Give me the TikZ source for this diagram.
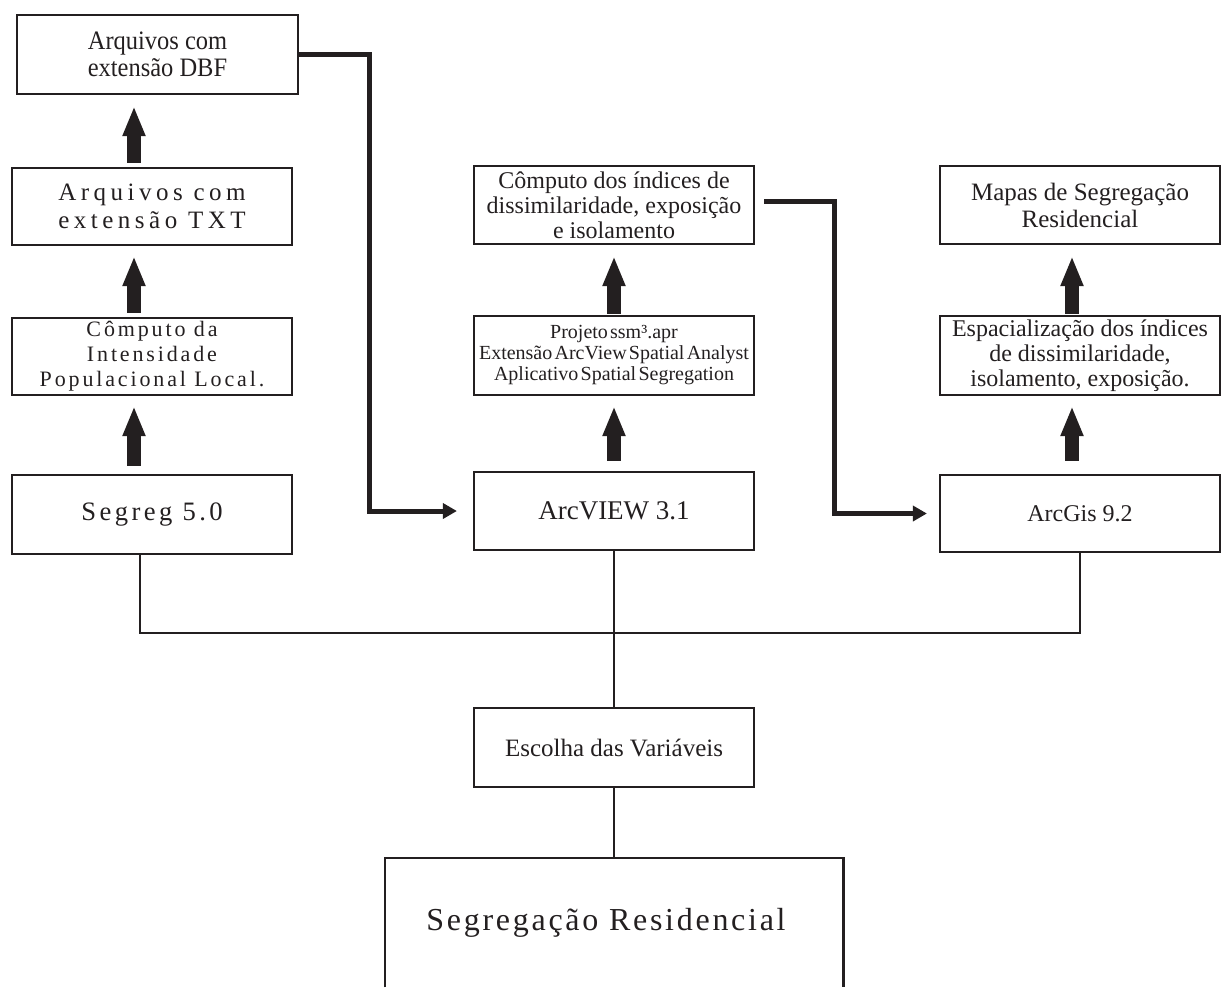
\documentclass[tikz,border=0pt]{standalone}
\usepackage{fontspec}
\setmainfont{Liberation Serif}
\newfontfamily\spaced[LetterSpace=18]{Liberation Serif}
\newfontfamily\spacedmid[LetterSpace=13]{Liberation Serif}
\newfontfamily\spacedlight[LetterSpace=8.5]{Liberation Serif}
\newfontfamily\narrow[FakeStretch=0.92]{Liberation Serif}
\newfontfamily\tightsp[WordSpace=0.45]{Liberation Serif}
\usetikzlibrary{arrows.meta,calc}
\definecolor{ink}{RGB}{35,31,32}
\tikzset{
  box/.style={draw=ink, line width=1.1pt, inner sep=0pt, align=center, text=ink,
              minimum width=140pt, minimum height=39pt},
  blockarrow/.style={draw=ink, line width=7pt, -{Triangle[length=15pt,width=10.5pt]}},
  flow/.style={draw=ink, line width=2.5pt, line join=miter, -{Triangle[length=7pt,width=7.5pt]}},
  link/.style={draw=ink, line width=1.1pt, line join=miter}
}
\begin{document}
\begin{tikzpicture}[x=0.5pt,y=-0.5pt]
\useasboundingbox (0,0) rectangle (1222,987);
% left column
\node[box, minimum width=140.5pt, minimum height=39.5pt, font=\narrow\fontsize{13.3}{13.5}\selectfont] (dbf) at (157.5,54.5) {Arquivos com\\extensão DBF};
\node[box, minimum height=38.5pt, font=\spaced\fontsize{12.5}{14}\selectfont] (txt) at (152,206.5) {Arquivos com\\extensão TXT};
\node[box, minimum height=38.5pt, font=\spacedmid\fontsize{11}{12.5}\selectfont] (intens) at (152,356.5) {Cômputo da\\Intensidade\\Populacional Local.};
\node[box, minimum height=39.5pt, font=\spacedmid\fontsize{13.3}{14}\selectfont] (segreg) at (152,514.5) {Segreg 5.0};
% middle column
\node[box, font=\fontsize{12}{12.5}\selectfont] (idx) at (614,205) {Cômputo dos índices de\\dissimilaridade, exposição\\e isolamento};
\node[box, minimum height=39.5pt, font=\tightsp\fontsize{10}{10.5}\selectfont] (proj) at (614,355.5) {Projeto ssm³.apr\\Extensão ArcView Spatial Analyst\\Aplicativo Spatial Segregation};
\node[box, font=\fontsize{13.5}{14}\selectfont] (arcview) at (614,511) {ArcVIEW 3.1};
% right column
\node[box, font=\fontsize{12.5}{13.5}\selectfont] (mapas) at (1080,205) {Mapas de Segregação\\Residencial};
\node[box, minimum height=39.5pt, font=\fontsize{12}{12.5}\selectfont] (esp) at (1080,355.5) {Espacialização dos índices\\de dissimilaridade,\\isolamento, exposição.};
\node[box, minimum height=38.5pt, font=\fontsize{12}{13}\selectfont] (arcgis) at (1080,513.5) {ArcGis 9.2};
% bottom
\node[box, minimum height=39.5pt, font=\fontsize{12.5}{13}\selectfont] (escolha) at (614,747.5) {Escolha das Variáveis};
\node[inner sep=0pt, minimum width=229pt, minimum height=64.5pt, text=ink,
      font=\spacedlight\fontsize{16}{17}\selectfont] (segres) at (614,922.5) {\raisebox{-2pt}{Segregação Residencial}\hspace*{8pt}};
\draw[link] (segres.south west) |- (segres.north east) -- (segres.south east);

% block arrows
\coordinate (a1) at ($(txt.north)+(-18,0)$);
\draw[blockarrow, shorten <=2pt, shorten >=5.5pt] (a1) -- (a1 |- dbf.south);
\coordinate (a2) at ($(intens.north)+(-18,0)$);
\draw[blockarrow, shorten <=2pt, shorten >=5pt] (a2) -- (a2 |- txt.south);
\coordinate (a3) at ($(segreg.north)+(-18,0)$);
\draw[blockarrow, shorten <=4pt, shorten >=5pt] (a3) -- (a3 |- intens.south);
\draw[blockarrow, shorten <=0.5pt, shorten >=5.5pt] (proj.north) -- (idx.south);
\draw[blockarrow, shorten <=5pt, shorten >=5pt] (arcview.north) -- (proj.south);
\coordinate (c1) at ($(esp.north)+(-8,0)$);
\draw[blockarrow, shorten <=0.5pt, shorten >=5.5pt] (c1) -- (c1 |- mapas.south);
\coordinate (c2) at ($(arcgis.north)+(-8,0)$);
\draw[blockarrow, shorten <=6.5pt, shorten >=5pt] (c2) -- (c2 |- esp.south);

% flow connectors
\draw[flow, shorten >=8pt] (dbf.east) -- ++(70,0) |- (arcview.west);
\draw[flow, shorten <=4.5pt, shorten >=6pt] ([yshift=2pt]idx.east) -- ++(79,0) |- (arcgis.west);

% thin links
\coordinate (bus) at (614,633);
\draw[link] ($(segreg.south)+(-12,0)$) |- (bus);
\draw[link] (arcgis.south) |- (bus);
\draw[link] (arcview.south) -- (bus);
\draw[link] (bus) -- (escolha.north);
\draw[link] (escolha.south) -- (escolha.south |- segres.north);
\end{tikzpicture}
\end{document}
